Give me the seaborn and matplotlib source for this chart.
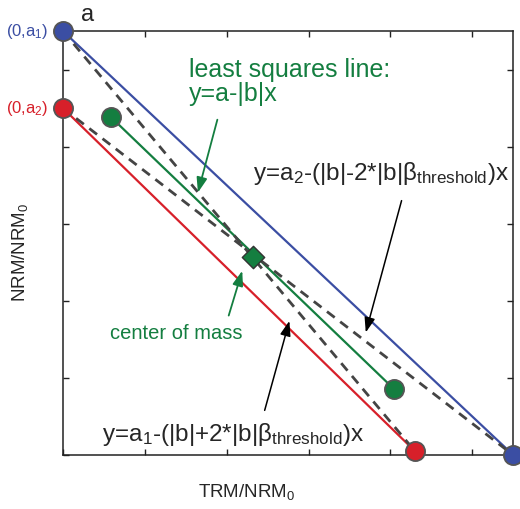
import matplotlib
matplotlib.use("Agg")
import matplotlib.pyplot as plt
import seaborn as sns
import pandas as pd

# endpoints of the lines (x = TRM/NRM0, y = NRM/NRM0)
blue_x = [0.0, 1.1]
blue_y = [1.1, 0.0]
red_x = [0.0, 0.86]
red_y = [0.9, 0.01]
green_x = [0.117, 0.809]
green_y = [0.877, 0.171]
dash1_x = [0.0, 0.86]   # y = a1 - (|b|+2|b|beta)x
dash1_y = [1.1, 0.01]
dash2_x = [0.0, 1.1]    # y = a2 - (|b|-2|b|beta)x
dash2_y = [0.9, 0.0]
center_x = [0.464]
center_y = [0.514]
tick_vals = [0.0, 0.2, 0.4, 0.6, 0.8, 1.0]

BLUE = "#3b4ea3"
RED = "#d7202a"
GREEN = "#147e40"
DASH = "#444444"
EDGE = "#555555"

sns.set_style("ticks")
plt.rcParams["font.family"] = ["Liberation Sans", "DejaVu Sans"]
plt.rcParams["mathtext.fontset"] = "custom"
plt.rcParams["mathtext.rm"] = "Liberation Sans"
plt.rcParams["mathtext.it"] = "Liberation Sans"
plt.rcParams["mathtext.bf"] = "Liberation Sans"

fig, ax = plt.subplots(figsize=(5.2, 5.09), dpi=100)
fig.subplots_adjust(left=0.121, right=0.987, bottom=0.106, top=0.939)

# solid lines
sns.lineplot(x=blue_x, y=blue_y, color=BLUE, lw=1.6, sort=False, ax=ax)
sns.lineplot(x=red_x, y=red_y, color=RED, lw=1.6, sort=False, ax=ax)
sns.lineplot(x=green_x, y=green_y, color=GREEN, lw=1.6, sort=False, ax=ax)

# dashed bounding lines
for dx, dy in [(dash1_x, dash1_y), (dash2_x, dash2_y)]:
    sns.lineplot(x=dx, y=dy, color=DASH, lw=2.0, sort=False, ax=ax)
    ax.lines[-1].set_dashes((3.5, 2.5))

# end points
pts = pd.DataFrame({
    "x": [blue_x[0], blue_x[1], red_x[0], red_x[1], green_x[0], green_x[1]],
    "y": [blue_y[0], blue_y[1], red_y[0], red_y[1], green_y[0], green_y[1]],
    "c": [BLUE, BLUE, RED, RED, GREEN, GREEN],
})
for c, grp in pts.groupby("c", sort=False):
    sns.scatterplot(data=grp, x="x", y="y", color=c, s=190, edgecolor=EDGE,
                    linewidth=1.3, zorder=5, clip_on=False, ax=ax)
sns.scatterplot(x=center_x, y=center_y, marker="D", color=GREEN, s=130,
                edgecolor="#333333", linewidth=1.0, zorder=6, ax=ax)

ax.set_xlim(0, 1.1)
ax.set_ylim(0, 1.1)
ax.set_xticks(tick_vals)
ax.set_yticks(tick_vals)
ax.tick_params(direction="in", length=4, width=1.0, top=True, right=True,
               labelbottom=False, labelleft=False, color="#222222")
for s in ax.spines.values():
    s.set_linewidth(1.1)
    s.set_color("#222222")
ax.set_xlabel("")
ax.set_ylabel("")

# labels
ax.text(0.044, 1.125, "a", fontsize=17, ha="left", va="baseline", clip_on=False)
ax.text(-0.037, 1.1, "(0,a$_1$)", color=BLUE, fontsize=12, ha="right", va="center", clip_on=False)
ax.text(-0.037, 0.9, "(0,a$_2$)", color=RED, fontsize=12, ha="right", va="center", clip_on=False)
ax.text(0.33, -0.11, "TRM/NRM$_0$", fontsize=13.5, ha="left", va="baseline", clip_on=False)
ax.text(-0.105, 0.527, "NRM/NRM$_0$", fontsize=13.5, rotation=90, ha="center", va="center", clip_on=False)

# annotations
arrow = "-|>,head_length=0.9,head_width=0.32"
ax.text(0.308, 1.03, "least squares line:\ny=a-|b|x", color=GREEN, fontsize=18,
        ha="left", va="top", linespacing=1.0)
ax.annotate("", xy=(0.328, 0.674), xytext=(0.379, 0.877),
            arrowprops=dict(arrowstyle=arrow, color=GREEN, lw=1.3))

ax.text(0.115, 0.316, "center of mass", color=GREEN, fontsize=14.5, ha="left", va="center")
ax.annotate("", xy=(0.440, 0.485), xytext=(0.403, 0.355),
            arrowprops=dict(arrowstyle=arrow, color=GREEN, lw=1.3))

ax.text(0.464, 0.713, r"y=a$_2$-(|b|-2*|b|β$_{\mathrm{threshold}}$)x", fontsize=17.5,
        ha="left", va="baseline")
ax.annotate("", xy=(0.738, 0.311), xytext=(0.829, 0.667),
            arrowprops=dict(arrowstyle=arrow, color="black", lw=1.1))

ax.text(0.095, 0.036, r"y=a$_1$-(|b|+2*|b|β$_{\mathrm{threshold}}$)x", fontsize=17.5,
        ha="left", va="baseline")
ax.annotate("", xy=(0.555, 0.355), xytext=(0.491, 0.109),
            arrowprops=dict(arrowstyle=arrow, color="black", lw=1.1))

fig.savefig("out.png", dpi=100)
